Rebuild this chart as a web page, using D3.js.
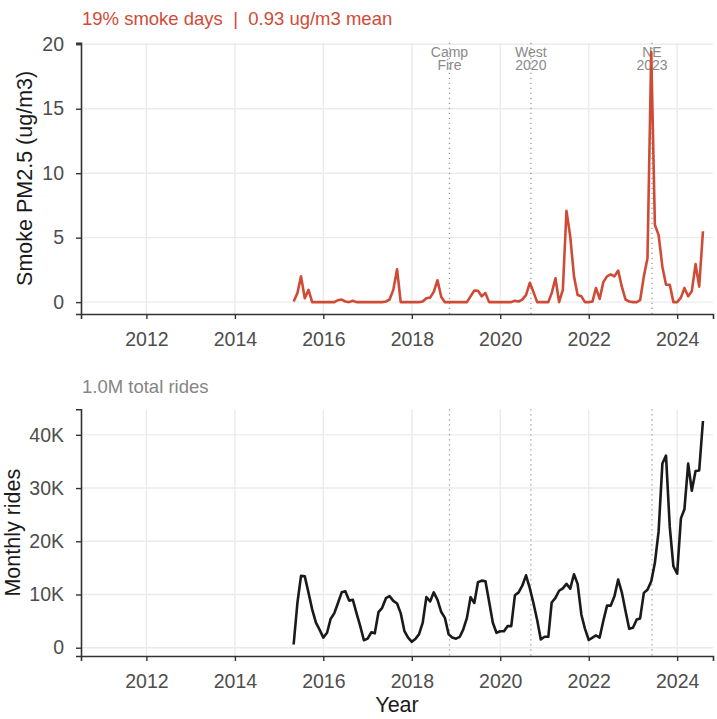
<!DOCTYPE html>
<html>
<head>
<meta charset="utf-8">
<script src="https://cdn.jsdelivr.net/npm/d3@7"></script>
<style>
  body { margin: 0; background: #fff; }
  svg { font-family: "Liberation Sans", Arial, sans-serif; }
  .note { white-space: pre; }
</style>
</head>
<body>
<div id="chart"></div>
<script>
// monthly series, first value is May 2015
const startMonth = "2015-05-01";

// smoke PM2.5 (ug/m3)
const smoke = [
  0.05, 0.7, 2.0, 0.3, 0.95,
  0, 0, 0, 0, 0, 0, 0,
  0.15, 0.2, 0.05, 0, 0.1, 0,
  0, 0, 0, 0, 0, 0,
  0, 0.05, 0.2, 0.95, 2.55, 0,
  0, 0, 0, 0, 0, 0.05,
  0.3, 0.35, 0.8, 1.7, 0.4, 0,
  0, 0, 0, 0, 0, 0,
  0.45, 0.9, 0.88, 0.45, 0.7, 0,
  0, 0, 0, 0, 0, 0,
  0.1, 0.05, 0.2, 0.55, 1.5, 0.8,
  0, 0, 0, 0, 0.7, 1.85,
  0, 0.95, 7.08, 5.1, 2.0, 0.55,
  0.45, 0, 0, 0.05, 1.1, 0.25,
  1.55, 2.0, 2.15, 2.0, 2.45, 1.2,
  0.2, 0.05, 0, 0, 0.15, 2.0,
  3.4, 19.4, 6.0, 5.2, 2.75, 1.35,
  1.35, 0, 0, 0.35, 1.1, 0.45,
  0.85, 2.95, 1.2, 5.5
];

// monthly rides, thousands
const ridesK = [
  0.6, 8.4, 13.5, 13.4, 10.3, 7.2, 4.7, 3.4, 1.9, 2.8, 5.4, 6.5,
  8.4, 10.4, 10.6, 8.85, 9.0, 6.5, 4.05, 1.4, 1.7, 2.9, 2.7, 6.7,
  7.5, 9.3, 9.7, 8.8, 8.3, 6.5, 3.1, 1.9, 1.1, 1.7, 2.5, 4.7,
  9.5, 8.7, 10.4, 9.0, 6.7, 5.6, 2.5, 1.9, 1.7, 2.05, 3.4, 5.6,
  9.5, 8.4, 12.3, 12.6, 12.5, 8.7, 4.7, 2.8, 3.1, 3.1, 4.05, 4.05,
  9.85, 10.4, 11.65, 13.6, 11.2, 8.4, 5.2, 1.55, 2.05, 2.05, 8.5, 9.35,
  10.7, 11.15, 12.0, 11.1, 13.8, 12.0, 6.2, 3.55, 1.45, 1.9, 2.3, 1.9,
  5.0, 7.9, 7.9, 9.65, 12.8, 10.4, 6.85, 3.55, 3.75, 5.3, 5.5, 10.3,
  10.9, 12.5, 15.9, 21.9, 34.6, 36.1, 22.7, 15.3, 13.9, 24.3, 26.0, 34.6,
  29.5, 33.2, 33.3, 42.6
];

const eventDates = ["2018-11-08", "2020-09-10", "2023-06-07"];
const eventLabels = [["Camp", "Fire"], ["West", "2020"], ["NE", "2023"]];

const yearTicks = [2012, 2014, 2016, 2018, 2020, 2022, 2024];
const smokeTicks = [0, 5, 10, 15, 20];
const rideTicks = [0, 10, 20, 30, 40];

const smokeNote = "19% smoke days  |  0.93 ug/m3 mean";
const ridesNote = "1.0M total rides";

const red = "#d04b36";
const W = 717, H = 719;
const parse = d3.timeParse("%Y-%m-%d");
const start = parse(startMonth);
const months = smoke.map((_, i) => d3.timeMonth.offset(start, i));

const svg = d3.select("#chart").append("svg")
  .attr("width", W)
  .attr("height", H);

const x = d3.scaleTime()
  .domain([new Date(2010, 6, 10), new Date(2024, 9, 23)])
  .range([81, 713]);

function panel(opts) {
  const { y, values, ticks, fmt, color, title, titleX, note, noteY, labels } = opts;
  const [y0, y1] = y.range();
  const g = svg.append("g");

  // grid
  g.selectAll(".vgrid").data(yearTicks).join("line")
    .attr("x1", d => x(new Date(d, 0, 1))).attr("x2", d => x(new Date(d, 0, 1)))
    .attr("y1", y1).attr("y2", y0)
    .attr("stroke", "#ebebeb").attr("stroke-width", 1.4);
  g.selectAll(".hgrid").data(ticks).join("line")
    .attr("x1", 81).attr("x2", 713)
    .attr("y1", d => y(d)).attr("y2", d => y(d))
    .attr("stroke", "#ebebeb").attr("stroke-width", 1.4);

  // event lines
  g.selectAll(".ev").data(eventDates).join("line")
    .attr("x1", d => x(parse(d))).attr("x2", d => x(parse(d)))
    .attr("y1", y1).attr("y2", y0)
    .attr("stroke", "#9a9a9a")
    .attr("stroke-width", 1.3)
    .attr("stroke-dasharray", "1.3,3.7");

  if (labels) {
    eventDates.forEach((d, i) => {
      eventLabels[i].forEach((s, j) => {
        g.append("text")
          .attr("x", x(parse(d)))
          .attr("y", 56.5 + j * 13.5)
          .attr("text-anchor", "middle")
          .attr("fill", "#8a8a8a")
          .attr("font-size", 14)
          .text(s);
      });
    });
  }

  // series
  const line = d3.line()
    .x((d, i) => x(months[i]))
    .y(d => y(d));
  g.append("path")
    .datum(values)
    .attr("d", line)
    .attr("fill", "none")
    .attr("stroke", color)
    .attr("stroke-width", 2.6)
    .attr("stroke-linejoin", "round");

  // axes
  const xa = g.append("g")
    .attr("transform", `translate(0,${y0})`)
    .call(d3.axisBottom(x).tickValues(yearTicks.map(d => new Date(d, 0, 1)))
      .tickFormat(d3.timeFormat("%Y")).tickSizeOuter(0).tickSize(5).tickPadding(13));
  const ya = g.append("g")
    .attr("transform", "translate(81,0)")
    .call(d3.axisLeft(y).tickValues(ticks).tickFormat(fmt).tickSizeOuter(0).tickSize(5).tickPadding(12));
  [xa, ya].forEach(a => {
    a.select(".domain").attr("stroke", "#333").attr("stroke-width", 1.6);
    a.selectAll(".tick line").attr("stroke", "#333").attr("stroke-width", 1.4);
    a.selectAll(".tick text").attr("fill", "#4d4d4d")
      .attr("font-size", 19.5).attr("font-family", "Liberation Sans, Arial, sans-serif");
  });

  g.append("text")
    .attr("transform", `translate(${titleX},${(y0 + y1) / 2}) rotate(-90)`)
    .attr("text-anchor", "middle")
    .attr("font-size", 21.5)
    .attr("fill", "#1a1a1a")
    .text(title);

  g.append("text")
    .attr("class", "note")
    .attr("x", 82).attr("y", noteY)
    .attr("font-size", 18.5)
    .attr("fill", note.color)
    .text(note.text);
}

panel({
  y: d3.scaleLinear().domain([-0.92, 20.12]).range([314, 42.7]),
  values: smoke,
  ticks: smokeTicks,
  fmt: d => d,
  color: red,
  title: "Smoke PM2.5 (ug/m3)",
  titleX: 32,
  note: { text: smokeNote, color: red },
  noteY: 25,
  labels: true
});

panel({
  y: d3.scaleLinear().domain([-1.56, 44.8]).range([656, 409.3]),
  values: ridesK,
  ticks: rideTicks,
  fmt: d => d === 0 ? "0" : d + "K",
  color: "#1a1a1a",
  title: "Monthly rides",
  titleX: 20,
  note: { text: ridesNote, color: "#858585" },
  noteY: 393,
  labels: false
});

svg.append("text")
  .attr("x", (81 + 713) / 2).attr("y", 712)
  .attr("text-anchor", "middle")
  .attr("font-size", 21.5)
  .attr("fill", "#1a1a1a")
  .text("Year");
</script>
</body>
</html>
